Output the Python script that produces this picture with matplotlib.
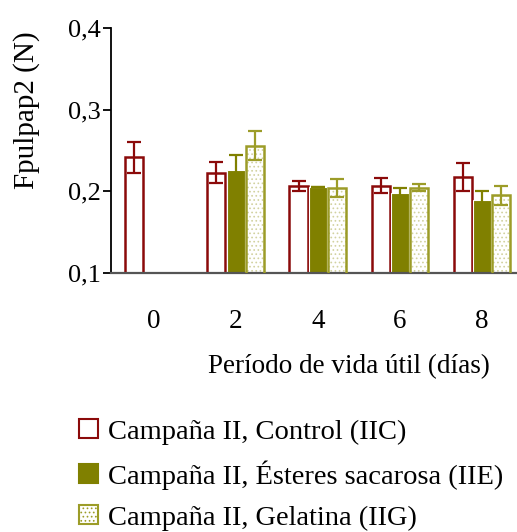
import numpy as np
import matplotlib
matplotlib.use("Agg")
import matplotlib.pyplot as plt
from matplotlib.patches import Patch

plt.rcParams['font.family'] = ['Liberation Serif', 'DejaVu Serif']
plt.rcParams['hatch.linewidth'] = 0.7

dias = ["0", "2", "4", "6", "8"]
control = [0.242, 0.223, 0.207, 0.207, 0.218]
control_err = [0.019, 0.013, 0.006, 0.009, 0.017]
esteres = [np.nan, 0.226, 0.205, 0.198, 0.189]
esteres_err = [np.nan, 0.018, 0.0, 0.006, 0.011]
gelatina = [np.nan, 0.256, 0.2045, 0.2045, 0.195]
gelatina_err = [np.nan, 0.018, 0.011, 0.0045, 0.0115]

labels = ["Campaña II, Control (IIC)",
          "Campaña II, Ésteres sacarosa (IIE)",
          "Campaña II, Gelatina (IIG)"]

red = "#8B0A0A"
olive = "#808000"
olive_light = "#9C9C28"
dots = "#D2D2A0"

fig = plt.figure(figsize=(5.17, 5.32), dpi=100)
ax = fig.add_axes([0.2147, 0.4868, 0.80, 0.4605])

x = np.arange(len(dias))
w = 0.22
off = 0.235

ax.bar(x - off, control, w, facecolor="white", edgecolor=red, linewidth=1.8, zorder=2)
ax.bar(x, esteres, w, facecolor=olive, edgecolor="white", linewidth=0.8, zorder=2)
ax.bar(x + off, gelatina, w, facecolor="white", edgecolor=dots, hatch="....", linewidth=0, zorder=2)
ax.bar(x + off, gelatina, w, facecolor="none", edgecolor=olive_light, linewidth=1.8, zorder=3)

ax.errorbar(x - off, control, yerr=control_err, fmt="none", ecolor=red, elinewidth=1.6,
            capsize=5, capthick=1.6, zorder=4)
ax.errorbar(x, esteres, yerr=esteres_err, fmt="none", ecolor=olive, elinewidth=1.6,
            capsize=5, capthick=1.6, zorder=4)
ax.errorbar(x + off, gelatina, yerr=gelatina_err, fmt="none", ecolor=olive_light, elinewidth=1.6,
            capsize=5, capthick=1.6, zorder=4)

ax.set_ylim(0.1, 0.4)
ax.set_xlim(-0.52, len(dias) - 0.48)
ax.set_yticks([0.1, 0.2, 0.3, 0.4])
ax.set_yticklabels(["0,1", "0,2", "0,3", "0,4"], fontsize=19)
ax.set_xticks(x)
ax.set_xticklabels(dias, fontsize=19.5)
ax.tick_params(axis="x", length=0, pad=26)
ax.tick_params(axis="y", direction="out", length=6, width=1.3, pad=1.5)

ax.spines["top"].set_visible(False)
ax.spines["right"].set_visible(False)
ax.spines["left"].set_linewidth(1.3)
ax.spines["bottom"].set_linewidth(1.6)
ax.spines["bottom"].set_color("#555555")

ax.set_ylabel("Fpulpap2 (N)", fontsize=21)
ax.yaxis.set_label_coords(-0.172, 0.665)
ax.set_xlabel("Período de vida útil (días)", fontsize=19.5)
ax.xaxis.set_label_coords(0.575, -0.33)

handles = [Patch(facecolor="white", edgecolor=red, linewidth=1.5),
           Patch(facecolor=olive, edgecolor=olive, linewidth=1.5),
           Patch(facecolor="white", edgecolor=olive_light, hatch="....", linewidth=1.5)]
# one legend per row so the rows stay evenly spaced
row_y = [0.188, 0.107, 0.026]
for h, lab, yy in zip(handles, labels, row_y):
    fig.legend([h], [lab], loc="center left", bbox_to_anchor=(0.126, yy),
               frameon=False, fontsize=20.5, handlelength=0.65, handleheight=0.65,
               handletextpad=0.35, borderpad=0)

fig.savefig("out.png", dpi=100)
